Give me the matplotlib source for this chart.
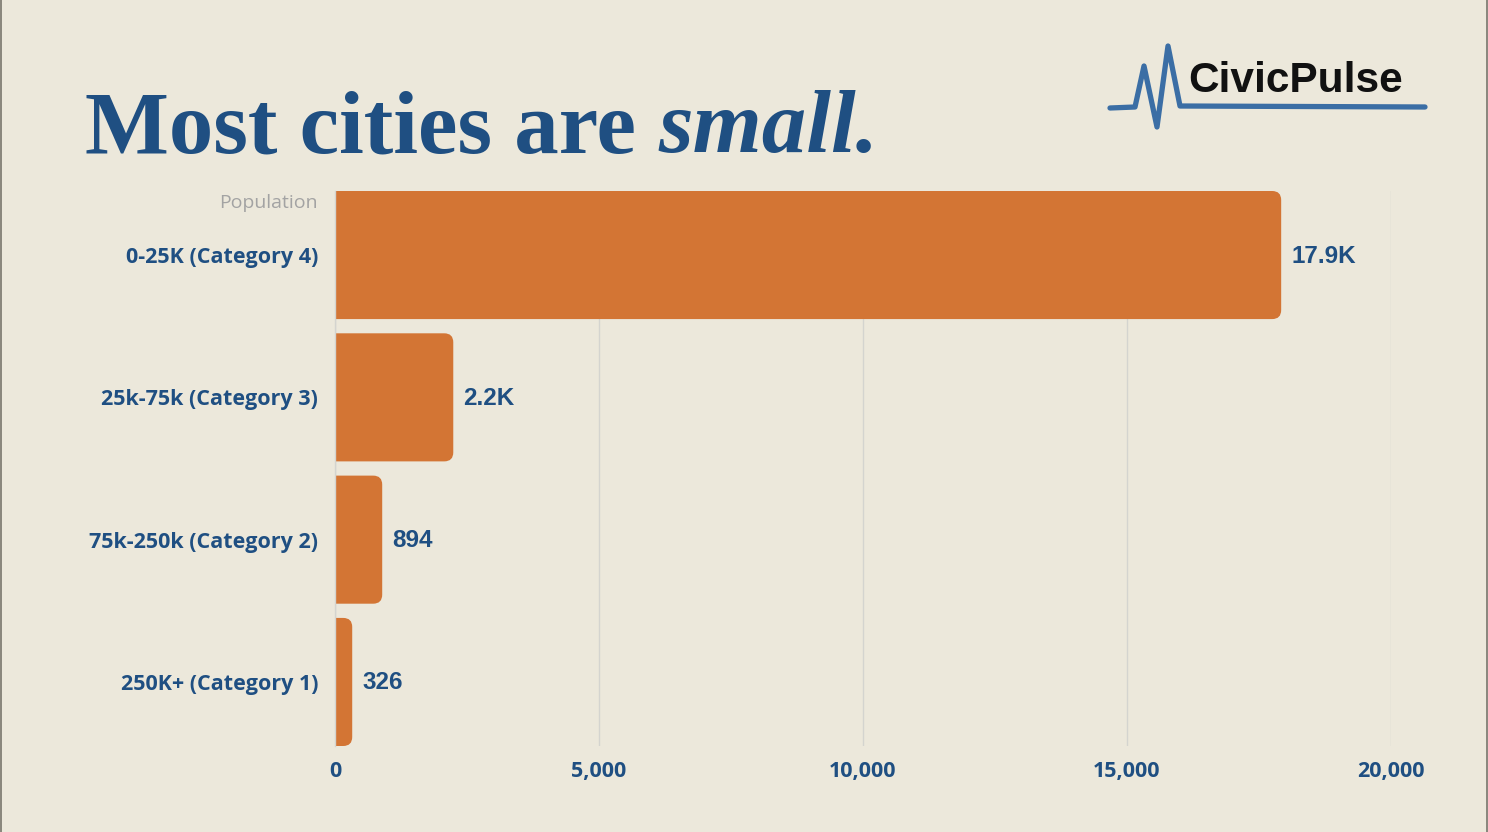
import matplotlib
matplotlib.use("Agg")
import matplotlib.pyplot as plt
from matplotlib.patches import FancyBboxPatch
from matplotlib.lines import Line2D

# ---- data ----
categories = ["0-25K (Category 4)", "25k-75k (Category 3)",
              "75k-250k (Category 2)", "250K+ (Category 1)"]
values = [17920, 2240, 894, 326]
xticks = [0, 5000, 10000, 15000, 20000]
xtick_labels = ["0", "5,000", "10,000", "15,000", "20,000"]
title_main = "Most cities are "
title_em = "small."
axis_title = "Population"
brand = "CivicPulse"


def fmt(v):
    return f"{v/1000:.1f}K" if v >= 1000 else f"{v:d}"


# ---- style ----
BG = "#ECE8DB"
BAR = "#D37534"
BLUE = "#1F4F82"
GRID = "#D4D4CF"
PULSE = "#3B6EA5"
W, H, DPI = 1488, 832, 100

fig = plt.figure(figsize=(W / DPI, H / DPI), dpi=DPI, facecolor=BG)
ax = fig.add_axes([335 / W, 1 - 746 / H, (1391 - 335) / W, (746 - 191) / H])
ax.set_facecolor(BG)

ypos = list(range(len(categories)))
bars = ax.barh(ypos, values, height=0.9, color=BAR)
ax.set_xlim(0, 20000)
ax.set_ylim(len(categories) - 0.55, -0.45)

# rounded right corners
fig.canvas.draw()
p0 = ax.transData.transform((0, 0))
p1 = ax.transData.transform((1, 1))
sx = abs(p1[0] - p0[0])
sy = abs(p1[1] - p0[1])
r_px = 9
r_x = r_px / sx
aspect = sx / sy
for rect in bars:
    x0, y0, w, h = rect.get_x(), rect.get_y(), rect.get_width(), rect.get_height()
    rect.set_visible(False)
    fp = FancyBboxPatch((x0 - 2 * r_x, y0), w + 2 * r_x, h,
                        boxstyle=f"round,pad=0,rounding_size={r_x}",
                        mutation_aspect=aspect, fc=BAR, ec="none", zorder=2)
    ax.add_patch(fp)

ax.set_xticks(xticks)
ax.set_xticklabels(xtick_labels)
ax.set_yticks(ypos)
ax.set_yticklabels(categories)
ax.xaxis.grid(True, color=GRID, lw=1)
ax.set_axisbelow(True)
for s in ["top", "right", "bottom"]:
    ax.spines[s].set_visible(False)
ax.spines["left"].set_color(GRID)
ax.spines["left"].set_linewidth(1)
ax.tick_params(axis="both", length=0)
ax.tick_params(axis="x", pad=11)
ax.tick_params(axis="y", pad=12)
for lab in ax.get_xticklabels():
    lab.set_fontfamily("Open Sans")
    lab.set_fontweight("bold")
    lab.set_fontsize(15.5)
    lab.set_color(BLUE)
for lab in ax.get_yticklabels():
    lab.set_fontfamily("Open Sans")
    lab.set_fontweight("bold")
    lab.set_fontsize(15.5)
    lab.set_color(BLUE)

# value labels
for y, v in zip(ypos, values):
    ax.annotate(fmt(v), xy=(v, y), xytext=(10, -1), textcoords="offset pixels",
                ha="left", va="center", fontfamily="Liberation Sans",
                fontweight="bold", fontsize=17.5, color=BLUE)

# axis title
fig.text(318 / W, 1 - 203 / H, axis_title, ha="right", va="center",
         fontfamily="Open Sans", fontsize=14, color="#A3A3A3")

# title
t1 = fig.text(85 / W, 1 - 152 / H, title_main, ha="left", va="baseline",
              fontfamily="Liberation Serif", fontweight="bold", fontsize=64,
              color=BLUE)
r = fig.canvas.get_renderer()
bb = t1.get_window_extent(renderer=r)
fig.text(bb.x1 / W, 1 - 152 / H, title_em, ha="left", va="baseline",
         fontfamily="Liberation Serif", fontweight="bold", fontstyle="italic",
         fontsize=64, color=BLUE)

# logo
px = [1110, 1135, 1144, 1157, 1168, 1180, 1425]
py = [108, 107, 66, 127, 46, 106, 107]
fig.add_artist(Line2D([x / W for x in px], [1 - y / H for y in py],
                      transform=fig.transFigure, color=PULSE, lw=3.8,
                      solid_joinstyle="round", solid_capstyle="round"))
fig.text(1188 / W, 1 - 92 / H, brand, ha="left", va="baseline",
         fontfamily="Liberation Sans", fontweight="bold", fontsize=30.5,
         color="#111111")

# side borders
for xb in (0.75, W - 0.75):
    fig.add_artist(Line2D([xb / W, xb / W], [0, 1], transform=fig.transFigure,
                          color="#6E6B62", lw=1.1))

fig.savefig("out.png", dpi=DPI, facecolor=BG)
